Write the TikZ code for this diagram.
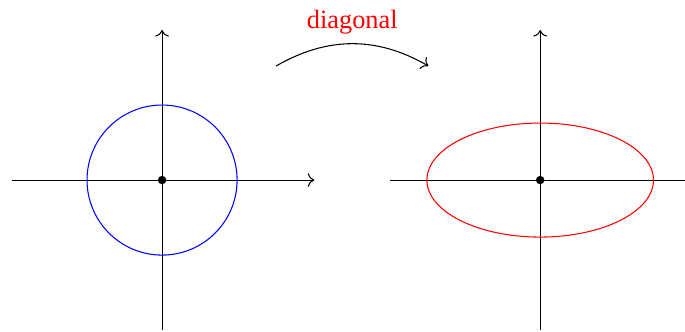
\documentclass[tikz,border=0pt]{standalone}
\usepackage{fontspec}
\setmainfont{Liberation Serif}
\usepackage{xcolor}
\usepackage{tikz}
\usetikzlibrary{arrows.meta,positioning}
\tikzset{
  plane/.style={x=1cm, y=1cm},
  axis/.style={->, draw=black},
  origin/.style={
    circle, fill=black, inner sep=0pt, minimum size=3.2pt
  },
  maplabel/.style={text=red, font=\normalsize},
}

\begin{document}
\begin{tikzpicture}[plane]
  \useasboundingbox (-2.16,-2.013) rectangle (6.97,2.4);
  % source plane
  \coordinate (o1) at (0,0);
  \draw[axis] (o1) ++(-2,0) -- ++(4.03,0);
  \draw[axis] (o1) ++(0,-2) -- ++(0,4);
  \draw[blue] (o1) circle (1);
  \node[origin] (c1) at (o1) {};
  % target plane
  \coordinate (o2) at (5.04,0);
  \draw[axis] (o2) ++(-2,0) -- ++(4.05,0);
  \draw[axis] (o2) ++(0,-2) -- ++(0,4);
  \draw[red] (o2) ellipse (1.51 and 0.76);
  \node[origin] (c2) at (o2) {};
  % the map
  \coordinate (src) at (1.52,1.52);
  \coordinate (dst) at (3.55,1.52);
  \draw[->] (src) to[bend left=30] node[above, maplabel] (lbl) {diagonal} (dst);
\end{tikzpicture}
\end{document}
